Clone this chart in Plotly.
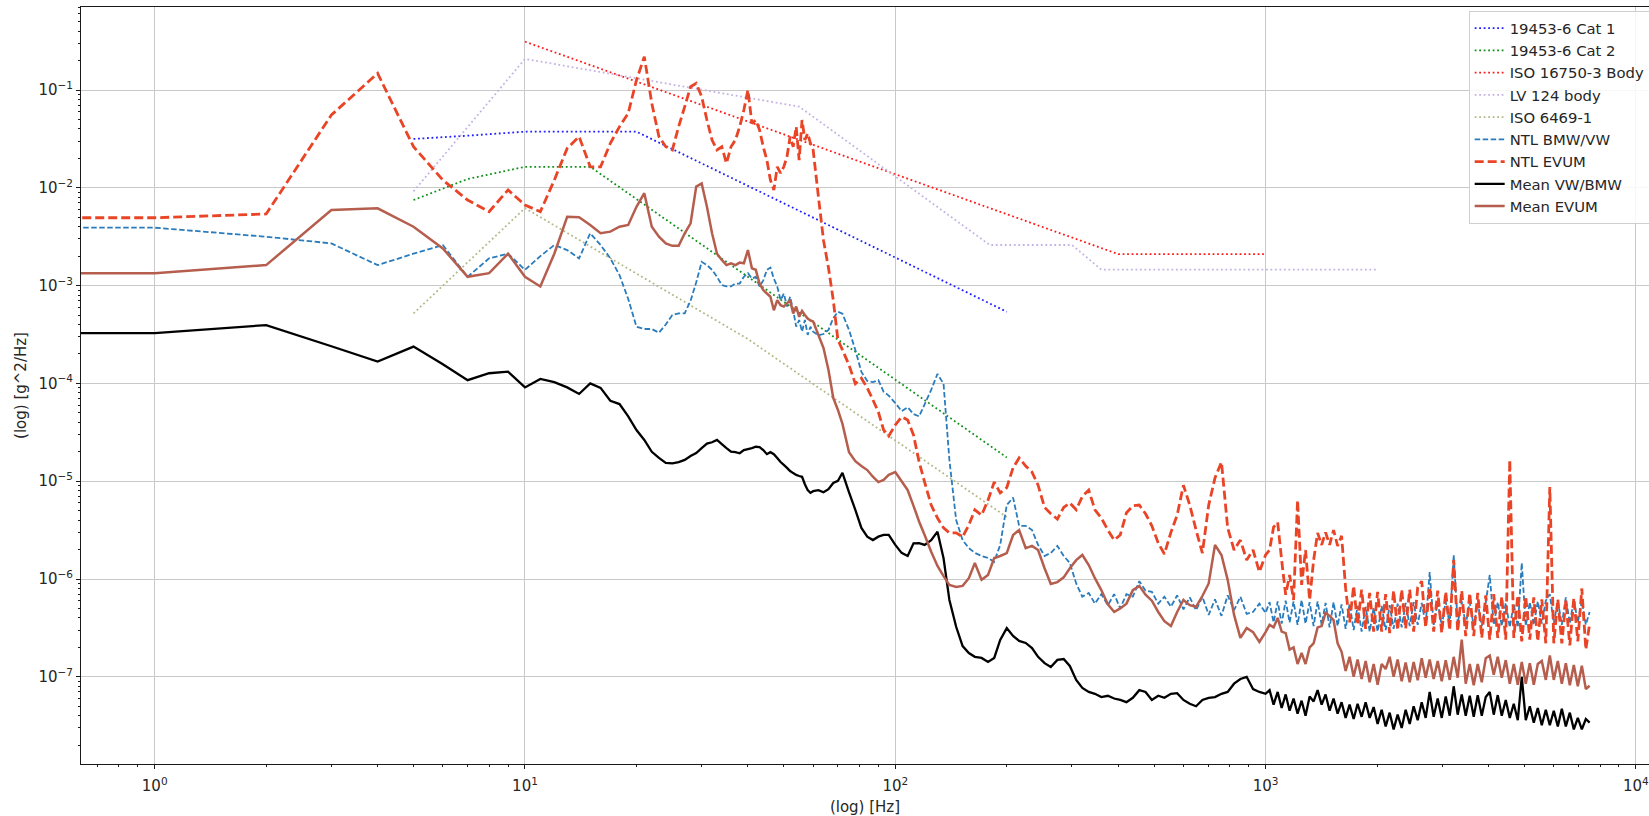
import plotly.graph_objects as go

# ---------------------------------------------------------------------------
# Frequency bins (Hz) shared by the measured spectra.
# The first entry stands in for the DC bin, which a log axis cannot place.
# ---------------------------------------------------------------------------
FREQ_LOW = [0.5] + list(range(1, 61))
FREQ_MID = [62, 64, 66, 68, 70, 72, 75, 78, 81, 84, 87, 90, 93, 96, 100, 104,
            108, 112, 116, 120, 125, 130]
FREQ_HIGH_A = [135, 140, 146, 152, 158, 164, 171, 178, 185, 192,
               200, 208, 216, 225, 234, 243, 253, 263, 274, 285,
               296, 308, 320, 333, 346, 360, 375, 390, 405, 421,
               438, 456, 474, 493, 513, 533, 555, 577, 600, 624,
               649, 675, 702, 730, 760, 790, 822, 855, 889, 925, 962]
FREQ_HIGH_B = [1000, 1025, 1051, 1078, 1105, 1133, 1161, 1190, 1220, 1251,
               1282, 1315, 1348, 1382, 1417, 1452, 1489, 1526, 1565, 1604,
               1645, 1686, 1729, 1772, 1817, 1863, 1910, 1958, 2007, 2058,
               2110, 2163, 2217, 2273, 2331, 2389, 2450, 2511, 2575, 2640,
               2706, 2774, 2844, 2916, 2990, 3065, 3142, 3221, 3302, 3386,
               3471, 3559, 3648, 3740, 3835, 3931, 4030, 4132, 4236, 4343,
               4452, 4565, 4680, 4798, 4918, 5042, 5170, 5300, 5433, 5570,
               5711, 5855, 6002, 6154, 6309, 6468, 6631, 6798, 6969, 7145,
               7325, 7500]

# ---------------------------------------------------------------------------
# NTL BMW/VW  [g^2/Hz]
# ---------------------------------------------------------------------------
NTL_BMW_LOW = [3.91e-3, 3.91e-3, 3.16e-3, 2.7e-3, 1.62e-3, 2.12e-3, 2.6e-3, 1.23e-3, 1.9e-3, 2.12e-3,
               1.45e-3, 2.0e-3, 2.6e-3, 2.31e-3, 1.9e-3, 3.43e-3, 2.6e-3, 1.9e-3, 1.28e-3, 7.3e-4,
               3.8e-4, 3.6e-4, 3.6e-4, 3.3e-4, 4.0e-4, 5.0e-4, 5.2e-4, 5.2e-4, 7.0e-4, 1.08e-3,
               1.75e-3, 1.62e-3, 1.45e-3, 1.23e-3, 1.01e-3, 9.8e-4, 9.8e-4, 1.05e-3, 1.05e-3, 1.23e-3,
               1.34e-3, 1.18e-3, 1.23e-3, 9.8e-4, 1.13e-3, 1.45e-3, 1.53e-3, 1.18e-3, 9.8e-4, 7.1e-4,
               8.3e-4, 6.1e-4, 7.7e-4, 5.6e-4, 3.8e-4, 4.45e-4, 3.38e-4, 4.45e-4, 3.13e-4, 3.8e-4,
               3.38e-4]
NTL_BMW_MID = [3.1e-4, 3.2e-4, 3.52e-4, 4.65e-4, 5.4e-4, 5.15e-4, 3.52e-4, 2.2e-4, 1.31e-4, 1.06e-4,
               1.03e-4, 1.08e-4, 8.2e-5, 7.5e-5, 6.3e-5, 5.2e-5, 5.7e-5, 4.85e-5, 4.6e-5, 6.1e-5,
               8.6e-5, 1.25e-4]
NTL_BMW_HIGH_A = [9.9e-5, 1.65e-5, 4.0e-6, 2.5e-6, 2.07e-6, 1.85e-6, 1.72e-6, 1.64e-6, 1.5e-6, 2.23e-6,
                  5.7e-6, 6.8e-6, 3.5e-6, 3.5e-6, 3.17e-6, 2.23e-6, 1.72e-6, 1.85e-6, 2.18e-6, 1.72e-6,
                  1.46e-6, 9.0e-7, 6.6e-7, 7.2e-7, 5.6e-7, 7.0e-7, 5.4e-7, 7.0e-7, 5.0e-7, 7.0e-7,
                  6.6e-7, 9.5e-7, 7.6e-7, 7.4e-7, 5.6e-7, 6.6e-7, 5.2e-7, 6.8e-7, 4.9e-7, 6.5e-7,
                  4.8e-7, 6.6e-7, 4.3e-7, 6.2e-7, 4.2e-7, 6.8e-7, 4.8e-7, 6.6e-7, 4.4e-7, 4.6e-7,
                  5.6e-7]
NTL_BMW_HIGH_B = [4.5e-7, 5.8e-7, 3.6e-7, 5.9e-7, 3.5e-7, 6.0e-7, 3.6e-7, 5.9e-7, 3.4e-7, 6.1e-7,
                  3.5e-7, 5.8e-7, 3.3e-7, 5.9e-7, 3.4e-7, 5.7e-7, 3.2e-7, 5.8e-7, 3.3e-7, 5.5e-7,
                  3.1e-7, 5.6e-7, 3.0e-7, 5.3e-7, 2.9e-7, 5.2e-7, 2.9e-7, 5.1e-7, 2.9e-7, 5.3e-7,
                  3.0e-7, 5.4e-7, 3.1e-7, 5.6e-7, 3.2e-7, 5.7e-7, 3.3e-7, 5.8e-7, 3.4e-7, 5.7e-7,
                  3.4e-7, 1.18e-6, 3.4e-7, 5.8e-7, 3.3e-7, 5.9e-7, 3.4e-7, 1.76e-6, 3.5e-7, 5.9e-7,
                  3.4e-7, 5.8e-7, 3.3e-7, 5.7e-7, 3.3e-7, 5.7e-7, 1.1e-6, 3.4e-7, 5.8e-7, 3.3e-7,
                  5.7e-7, 3.2e-7, 5.6e-7, 3.2e-7, 1.46e-6, 3.3e-7, 5.8e-7, 3.4e-7, 5.9e-7, 3.5e-7,
                  6.0e-7, 7.0e-7, 3.5e-7, 6.0e-7, 3.4e-7, 6.5e-7, 3.5e-7, 6.2e-7, 3.6e-7, 6.0e-7,
                  3.4e-7, 4.6e-7]

# ---------------------------------------------------------------------------
# NTL EVUM  [g^2/Hz]
# ---------------------------------------------------------------------------
NTL_EVUM_LOW = [4.94e-3, 4.94e-3, 5.4e-3, 0.0555, 0.148, 0.0263, 0.012, 7.5e-3, 5.7e-3, 9.5e-3,
                6.67e-3, 5.7e-3, 0.012, 0.0253, 0.0334, 0.0164, 0.0164, 0.0285, 0.0422, 0.0578,
                0.126, 0.219, 0.073, 0.0334, 0.0263, 0.0244, 0.0422, 0.0676, 0.108, 0.117,
                0.0855, 0.0493, 0.0308, 0.0244, 0.0263, 0.0178, 0.0263, 0.0308, 0.0422, 0.0625,
                0.1, 0.0456, 0.0493, 0.039, 0.0263, 0.0192, 0.012, 9.5e-3, 0.0164, 0.0141,
                0.0164, 0.0208, 0.0334, 0.0263, 0.0422, 0.0192, 0.0493, 0.0308, 0.036, 0.0285,
                0.0244]
NTL_EVUM_MID = [8.1e-3, 2.9e-3, 1.52e-3, 7.1e-4, 2.78e-4, 2.2e-4, 1.54e-4, 9.9e-5, 1.13e-4, 9.0e-5,
                6.8e-5, 5.1e-5, 3.34e-5, 2.9e-5, 3.76e-5, 4.55e-5, 4.23e-5, 2.97e-5, 1.57e-5, 9.8e-6,
                5.7e-6, 4.2e-6]
NTL_EVUM_HIGH_A = [3.33e-6, 2.96e-6, 2.96e-6, 2.7e-6, 3.56e-6, 5.1e-6, 4.5e-6, 6.4e-6, 9.8e-6, 7.6e-6,
                   8.6e-6, 1.37e-5, 1.73e-5, 1.43e-5, 1.24e-5, 9.1e-6, 5.4e-6, 4.65e-6, 4.1e-6, 5.4e-6,
                   6.0e-6, 5.1e-6, 7.0e-6, 8.1e-6, 5.1e-6, 4.2e-6, 3.17e-6, 2.5e-6, 2.82e-6, 4.75e-6,
                   5.6e-6, 5.7e-6, 4.65e-6, 3.5e-6, 2.33e-6, 1.8e-6, 3.0e-6, 4.5e-6, 9.1e-6, 5.7e-6,
                   3.17e-6, 1.84e-6, 5.7e-6, 1.08e-5, 1.57e-5, 3.33e-6, 1.98e-6, 2.5e-6, 1.56e-6, 1.98e-6,
                   1.18e-6]
NTL_EVUM_HIGH_B = [1.76e-6, 1.98e-6, 3.4e-6, 3.8e-6, 1.56e-6, 6.9e-7, 1.1e-6, 6.1e-7, 6.4e-6, 8.7e-7,
                   1.98e-6, 6.1e-7, 1.56e-6, 2.96e-6, 2.23e-6, 3.0e-6, 2.23e-6, 3.17e-6, 2.18e-6, 2.76e-6,
                   8.0e-7, 3.6e-7, 8.5e-7, 3.4e-7, 7.8e-7, 3.1e-7, 7.2e-7, 2.9e-7, 7.4e-7, 2.9e-7,
                   7.0e-7, 2.8e-7, 7.6e-7, 3.0e-7, 7.8e-7, 3.1e-7, 7.8e-7, 2.9e-7, 8.2e-7, 9.5e-7,
                   3.2e-7, 8.2e-7, 2.9e-7, 7.6e-7, 2.8e-7, 7.4e-7, 3.0e-7, 1.56e-6, 2.9e-7, 7.6e-7,
                   2.6e-7, 7.2e-7, 2.6e-7, 7.2e-7, 2.5e-7, 6.8e-7, 2.4e-7, 7.0e-7, 2.5e-7, 6.6e-7,
                   2.4e-7, 1.65e-5, 2.5e-7, 6.8e-7, 2.3e-7, 6.6e-7, 2.4e-7, 6.5e-7, 2.3e-7, 6.2e-7,
                   2.2e-7, 8.7e-6, 2.2e-7, 6.2e-7, 2.2e-7, 6.0e-7, 2.1e-7, 6.4e-7, 2.3e-7, 8.0e-7,
                   1.9e-7, 3.5e-7]

# ---------------------------------------------------------------------------
# Mean VW/BMW  [g^2/Hz]
# ---------------------------------------------------------------------------
MEAN_BMW_LOW = [3.26e-4, 3.26e-4, 3.95e-4, 2.4e-4, 1.67e-4, 2.38e-4, 1.57e-4, 1.08e-4, 1.27e-4, 1.32e-4,
                9.1e-5, 1.11e-4, 1.03e-4, 9.1e-5, 7.8e-5, 1.0e-4, 9.0e-5, 6.65e-5, 6.15e-5, 4.6e-5,
                3.34e-5, 2.64e-5, 2.0e-5, 1.73e-5, 1.54e-5, 1.52e-5, 1.57e-5, 1.65e-5, 1.81e-5, 1.94e-5,
                2.18e-5, 2.42e-5, 2.5e-5, 2.64e-5, 2.4e-5, 2.18e-5, 2.0e-5, 1.98e-5, 1.93e-5, 2.08e-5,
                2.13e-5, 2.18e-5, 2.25e-5, 2.23e-5, 2.08e-5, 1.89e-5, 1.98e-5, 1.89e-5, 1.73e-5, 1.57e-5,
                1.47e-5, 1.37e-5, 1.27e-5, 1.21e-5, 1.16e-5, 1.13e-5, 1.11e-5, 9.3e-6, 8.1e-6, 7.6e-6,
                7.9e-6]
MEAN_BMW_MID = [8.1e-6, 7.7e-6, 8.3e-6, 9.6e-6, 1.01e-5, 1.22e-5, 7.7e-6, 5.1e-6, 3.33e-6, 2.71e-6,
                2.5e-6, 2.71e-6, 2.82e-6, 2.82e-6, 2.23e-6, 1.85e-6, 1.72e-6, 2.32e-6, 2.33e-6, 2.23e-6,
                2.5e-6, 3.05e-6]
MEAN_BMW_HIGH_A = [1.63e-6, 6.1e-7, 3.25e-7, 2.06e-7, 1.75e-7, 1.6e-7, 1.56e-7, 1.42e-7, 1.56e-7, 2.38e-7,
                   3.15e-7, 2.62e-7, 2.33e-7, 2.22e-7, 1.97e-7, 1.6e-7, 1.38e-7, 1.26e-7, 1.49e-7, 1.52e-7,
                   1.29e-7, 9.3e-8, 7.7e-8, 7.0e-8, 6.7e-8, 6.2e-8, 6.4e-8, 6.0e-8, 5.8e-8, 5.5e-8,
                   6.1e-8, 7.3e-8, 7.0e-8, 5.8e-8, 6.4e-8, 6.1e-8, 6.7e-8, 6.8e-8, 5.8e-8, 5.3e-8,
                   5.0e-8, 5.8e-8, 6.1e-8, 6.2e-8, 6.7e-8, 7.0e-8, 8.5e-8, 9.5e-8, 1.0e-7, 7.5e-8,
                   7.0e-8]
MEAN_BMW_HIGH_B = [6.7e-8, 7.3e-8, 5.2e-8, 7.0e-8, 4.8e-8, 6.6e-8, 4.5e-8, 6.0e-8, 4.2e-8, 5.7e-8,
                   4.0e-8, 6.3e-8, 5.6e-8, 7.3e-8, 5.2e-8, 6.6e-8, 4.5e-8, 6.0e-8, 4.2e-8, 5.5e-8,
                   3.8e-8, 5.2e-8, 3.7e-8, 5.3e-8, 3.9e-8, 5.5e-8, 3.8e-8, 4.9e-8, 3.3e-8, 4.6e-8,
                   3.1e-8, 4.3e-8, 2.9e-8, 4.1e-8, 3.0e-8, 4.6e-8, 3.3e-8, 5.0e-8, 3.6e-8, 5.5e-8,
                   3.8e-8, 7.0e-8, 3.9e-8, 6.0e-8, 3.8e-8, 6.3e-8, 4.0e-8, 8.0e-8, 4.1e-8, 6.6e-8,
                   4.0e-8, 6.4e-8, 3.9e-8, 6.5e-8, 4.0e-8, 6.2e-8, 7.0e-8, 4.1e-8, 6.5e-8, 4.0e-8,
                   5.8e-8, 3.8e-8, 5.3e-8, 3.6e-8, 1.0e-7, 3.6e-8, 5.0e-8, 3.4e-8, 4.8e-8, 3.2e-8,
                   4.6e-8, 3.2e-8, 4.5e-8, 3.1e-8, 4.7e-8, 3.1e-8, 4.3e-8, 2.9e-8, 3.8e-8, 2.9e-8,
                   3.7e-8, 3.4e-8]

# ---------------------------------------------------------------------------
# Mean EVUM  [g^2/Hz]
# ---------------------------------------------------------------------------
MEAN_EVUM_LOW = [1.34e-3, 1.34e-3, 1.62e-3, 5.93e-3, 6.17e-3, 4.0e-3, 2.4e-3, 1.23e-3, 1.34e-3, 2.12e-3,
                 1.23e-3, 9.8e-4, 2.12e-3, 5.06e-3, 4.99e-3, 4.17e-3, 3.43e-3, 3.56e-3, 4.0e-3, 4.17e-3,
                 6.4e-3, 8.8e-3, 4.0e-3, 3.16e-3, 2.7e-3, 2.55e-3, 2.56e-3, 3.43e-3, 4.34e-3, 0.0103,
                 0.0111, 6.4e-3, 3.43e-3, 2.12e-3, 1.83e-3, 1.62e-3, 1.69e-3, 1.62e-3, 1.72e-3, 1.69e-3,
                 2.31e-3, 1.5e-3, 1.45e-3, 1.05e-3, 9.0e-4, 8.3e-4, 7.7e-4, 5.6e-4, 7.1e-4, 6.3e-4,
                 6.1e-4, 6.6e-4, 7.1e-4, 5.2e-4, 6.1e-4, 4.8e-4, 5.5e-4, 5.0e-4, 4.6e-4, 4.4e-4,
                 4.3e-4]
MEAN_EVUM_MID = [3.13e-4, 2.3e-4, 1.37e-4, 7.1e-5, 5.35e-5, 3.85e-5, 1.98e-5, 1.6e-5, 1.43e-5, 1.3e-5,
                 1.11e-5, 9.8e-6, 1.03e-5, 1.16e-5, 1.24e-5, 1.0e-5, 8.1e-6, 5.6e-6, 3.85e-6, 2.82e-6,
                 1.9e-6, 1.36e-6]
MEAN_EVUM_HIGH_A = [1.07e-6, 8.7e-7, 8.3e-7, 8.5e-7, 1.02e-6, 1.46e-6, 9.8e-7, 1.1e-6, 1.64e-6, 1.72e-6,
                    1.84e-6, 2.82e-6, 3.17e-6, 2.07e-6, 2.18e-6, 1.98e-6, 1.29e-6, 8.9e-7, 9.3e-7, 1.04e-6,
                    1.29e-6, 1.56e-6, 1.76e-6, 1.39e-6, 1.02e-6, 7.7e-7, 5.5e-7, 4.6e-7, 5.0e-7, 5.6e-7,
                    7.7e-7, 8.5e-7, 6.9e-7, 6.0e-7, 4.6e-7, 3.7e-7, 3.3e-7, 4.6e-7, 6.1e-7, 5.4e-7,
                    5.2e-7, 6.7e-7, 9.0e-7, 2.23e-6, 1.76e-6, 9.8e-7, 4.3e-7, 2.5e-7, 3.15e-7, 2.86e-7,
                    2.27e-7]
MEAN_EVUM_HIGH_B = [2.86e-7, 3.4e-7, 3.2e-7, 4.0e-7, 2.9e-7, 2.8e-7, 1.9e-7, 2.0e-7, 1.35e-7, 1.75e-7,
                    1.35e-7, 2.0e-7, 2.2e-7, 3.2e-7, 3.3e-7, 4.5e-7, 4.2e-7, 3.8e-7, 2.2e-7, 1.8e-7,
                    1.15e-7, 1.6e-7, 1.0e-7, 1.5e-7, 9.5e-8, 1.45e-7, 8.8e-8, 1.35e-7, 8.3e-8, 1.35e-7,
                    1.2e-7, 1.6e-7, 1.0e-7, 1.5e-7, 9.0e-8, 1.4e-7, 8.8e-8, 1.42e-7, 9.2e-8, 1.55e-7,
                    9.8e-8, 1.5e-7, 9.5e-8, 1.45e-7, 9.0e-8, 1.48e-7, 9.3e-8, 1.6e-7, 9.8e-8, 2.4e-7,
                    8.5e-8, 1.35e-7, 8.2e-8, 1.35e-7, 8.8e-8, 1.55e-7, 1.65e-7, 1.05e-7, 1.6e-7, 9.8e-8,
                    1.48e-7, 8.5e-8, 1.35e-7, 8.3e-8, 1.42e-7, 8.5e-8, 1.38e-7, 8.3e-8, 1.35e-7, 1.45e-7,
                    9.3e-8, 1.65e-7, 9.3e-8, 1.45e-7, 8.5e-8, 1.38e-7, 8.2e-8, 1.32e-7, 8.0e-8, 1.3e-7,
                    7.5e-8, 8.1e-8]

# ---------------------------------------------------------------------------
# Specification profiles  (frequency [Hz], PSD [g^2/Hz])
# ---------------------------------------------------------------------------
CAT1_FREQ = [5, 7, 10, 20, 200]
CAT1_PSD = [0.0316, 0.0341, 0.0375, 0.0375, 5.4e-4]
CAT2_FREQ = [5, 7, 10, 15, 200]
CAT2_PSD = [7.5e-3, 0.0123, 0.0164, 0.0164, 1.75e-5]
ISO16750_FREQ = [10, 400, 1000]
ISO16750_PSD = [0.312, 2.1e-3, 2.1e-3]
LV124_FREQ = [5, 10, 55, 180, 300, 360, 1000, 2000]
LV124_PSD = [9.2e-3, 0.208, 0.0676, 2.6e-3, 2.6e-3, 1.46e-3, 1.46e-3, 1.46e-3]
ISO6469_FREQ = [5, 10, 40, 200]
ISO6469_PSD = [5.2e-4, 6.2e-3, 2.84e-4, 4.3e-6]

X_TICKS = [1, 10, 100, 1000, 10000]
X_TICK_TEXT = ["10<sup>0</sup>", "10<sup>1</sup>", "10<sup>2</sup>", "10<sup>3</sup>", "10<sup>4</sup>"]
Y_TICKS = [1e-1, 1e-2, 1e-3, 1e-4, 1e-5, 1e-6, 1e-7]
Y_TICK_TEXT = ["10<sup>\u22121</sup>", "10<sup>\u22122</sup>", "10<sup>\u22123</sup>",
               "10<sup>\u22124</sup>", "10<sup>\u22125</sup>", "10<sup>\u22126</sup>",
               "10<sup>\u22127</sup>"]

# ---------------------------------------------------------------------------
FREQ = FREQ_LOW + FREQ_MID + FREQ_HIGH_A + FREQ_HIGH_B
ntl_bmw = NTL_BMW_LOW + NTL_BMW_MID + NTL_BMW_HIGH_A + NTL_BMW_HIGH_B
ntl_evum = NTL_EVUM_LOW + NTL_EVUM_MID + NTL_EVUM_HIGH_A + NTL_EVUM_HIGH_B
mean_bmw = MEAN_BMW_LOW + MEAN_BMW_MID + MEAN_BMW_HIGH_A + MEAN_BMW_HIGH_B
mean_evum = MEAN_EVUM_LOW + MEAN_EVUM_MID + MEAN_EVUM_HIGH_A + MEAN_EVUM_HIGH_B
for series in (ntl_bmw, ntl_evum, mean_bmw, mean_evum):
    assert len(series) == len(FREQ), (len(series), len(FREQ))

DOT = "1.8px,2.7px"
TEXT_FONT = dict(family="DejaVu Sans", size=15, color="#262626")

fig = go.Figure()


def add_line(x, y, name, color, width, dash="solid"):
    fig.add_trace(go.Scatter(
        x=x, y=y, name=name, mode="lines",
        line=dict(color=color, width=width, dash=dash, simplify=False),
    ))


add_line(CAT1_FREQ, CAT1_PSD, "19453-6 Cat 1", "#1f1fff", 1.8, DOT)
add_line(CAT2_FREQ, CAT2_PSD, "19453-6 Cat 2", "#10901a", 1.8, DOT)
add_line(ISO16750_FREQ, ISO16750_PSD, "ISO 16750-3 Body", "#ff1a1a", 1.8, DOT)
add_line(LV124_FREQ, LV124_PSD, "LV 124 body", "#c3b3e3", 1.8, DOT)
add_line(ISO6469_FREQ, ISO6469_PSD, "ISO 6469-1", "#b3b885", 1.8, DOT)
add_line(FREQ, ntl_bmw, "NTL BMW/VW", "#2a7cbc", 1.8, "5.5px,2.5px")
add_line(FREQ, ntl_evum, "NTL EVUM", "#ea4426", 2.8, "9px,4px")
add_line(FREQ, mean_bmw, "Mean VW/BMW", "#000000", 2.3)
add_line(FREQ, mean_evum, "Mean EVUM", "#b65e4e", 2.5)

minor_x = [m * 10 ** k for k in range(-1, 4) for m in range(2, 10)]
minor_y = [m * 10.0 ** k for k in range(-8, 0) for m in range(2, 10)]

axis_common = dict(
    type="log",
    showgrid=True, gridcolor="#c9c9c9", gridwidth=1,
    zeroline=False,
    showline=True, linecolor="#1a1a1a", linewidth=1,
    ticks="outside", ticklen=4, tickwidth=1, tickcolor="#1a1a1a",
    tickfont=TEXT_FONT,
    tickmode="array",
    ticklabeloverflow="allow",
)

fig.update_xaxes(
    **axis_common,
    range=[-0.199, 4.0354],
    tickvals=X_TICKS, ticktext=X_TICK_TEXT,
    ticklabelstandoff=4,
    mirror=True,
    minor=dict(tickmode="array", tickvals=minor_x, ticks="outside", ticklen=2,
               tickwidth=0.8, tickcolor="#1a1a1a", showgrid=False),
    title=dict(text="(log) [Hz]", standoff=12, font=TEXT_FONT),
)
fig.update_yaxes(
    **axis_common,
    range=[-7.8916, -0.1513],
    tickvals=Y_TICKS, ticktext=Y_TICK_TEXT,
    mirror=False,
    minor=dict(tickmode="array", tickvals=minor_y, ticks="outside", ticklen=2,
               tickwidth=0.8, tickcolor="#1a1a1a", showgrid=False),
    title=dict(text="(log) [g^2/Hz]", standoff=8, font=TEXT_FONT),
)

fig.update_layout(
    width=1649, height=816,
    margin=dict(l=81, r=0, t=7, b=52, autoexpand=False),
    paper_bgcolor="white", plot_bgcolor="white",
    font=TEXT_FONT,
    showlegend=True,
    legend=dict(
        x=0.885, y=0.9947, xanchor="left", yanchor="top",
        bgcolor="rgba(255,255,255,0.85)", bordercolor="#d0d0d0", borderwidth=1,
        font=dict(family="DejaVu Sans", size=14.8, color="#262626"),
        tracegroupgap=0,
    ),
)

fig.write_html("out.html")
